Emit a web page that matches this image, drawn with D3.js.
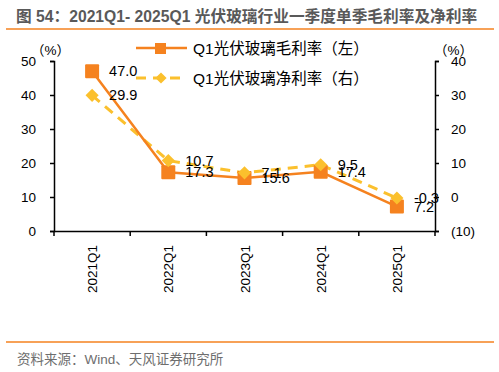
<!DOCTYPE html>
<html>
<head>
<meta charset="utf-8">
<script src="https://cdn.jsdelivr.net/npm/d3@7"></script>
<style>
  body { margin: 0; background: #fff; }
  svg text { font-family: "Liberation Sans", Arial, "Noto Sans CJK SC", sans-serif; }
  .cjk { font-family: "Liberation Sans", "Noto Sans CJK SC", sans-serif; }
</style>
</head>
<body>
<svg id="chart" width="499" height="372"></svg>
<script>
var categories = ["2021Q1", "2022Q1", "2023Q1", "2024Q1", "2025Q1"];
var grossMargin = [47.0, 17.3, 15.6, 17.4, 7.2];
var netMargin = [29.9, 10.7, 7.1, 9.5, -0.3];
var leftTicks = [0, 10, 20, 30, 40, 50];
var rightTicks = [-10, 0, 10, 20, 30, 40];

var orange = "#f5821f",
  yellow = "#fbc02d";

var svg = d3.select("#chart"),
  margin = { top: 61, left: 54, right: 64, bottom: 141 },
  width = 499 - margin.left - margin.right,
  height = 372 - margin.top - margin.bottom;

// title + rules
svg.append("text")
  .attr("class", "cjk")
  .attr("x", 16).attr("y", 22)
  .attr("font-size", 15.7).attr("font-weight", "bold")
  .attr("fill", "#595959")
  .text("图 54：2021Q1- 2025Q1 光伏玻璃行业一季度单季毛利率及净利率");

svg.append("line").attr("x1", 6).attr("x2", 494).attr("y1", 29).attr("y2", 29)
  .attr("stroke", orange).attr("stroke-width", 1.5);
svg.append("line").attr("x1", 6).attr("x2", 494).attr("y1", 342).attr("y2", 342)
  .attr("stroke", orange).attr("stroke-width", 1.5);
svg.append("text")
  .attr("class", "cjk")
  .attr("x", 17).attr("y", 364)
  .attr("font-size", 13.5).attr("fill", "#6e6e6e")
  .text("资料来源：Wind、天风证券研究所");

var g = svg.append("g").attr("transform", "translate(" + margin.left + "," + margin.top + ")");

var x = d3.scaleBand().domain(categories).range([0, width]);
var yL = d3.scaleLinear().domain([0, 50]).range([height, 0]);
var yR = d3.scaleLinear().domain([-10, 40]).range([height, 0]);

// axes
var axL = g.append("g").call(d3.axisLeft(yL).tickValues(leftTicks).tickSize(4).tickPadding(14));
var axR = g.append("g").attr("transform", "translate(" + width + ",0)")
  .call(d3.axisRight(yR).tickValues(rightTicks).tickSize(4).tickPadding(12)
    .tickFormat(function (d) { return d < 0 ? "(" + Math.abs(d) + ")" : d; }));
var axB = g.append("g").attr("transform", "translate(0," + height + ")")
  .call(d3.axisBottom(x).tickSize(0).tickFormat(""));

[axL, axR, axB].forEach(function (a) {
  a.select(".domain").attr("stroke", "#000").attr("stroke-width", 1.5);
  a.selectAll(".tick line").attr("stroke", "#000").attr("stroke-width", 1.5);
  a.selectAll("text").attr("font-size", 13.5).attr("fill", "#000")
    .attr("font-family", "Liberation Sans, Arial, sans-serif");
});

// bottom ticks at band boundaries
var bounds = categories.map(function (c) { return x(c); }).concat([width]);
g.selectAll(".btick").data(bounds).enter().append("line")
  .attr("x1", function (d) { return d; }).attr("x2", function (d) { return d; })
  .attr("y1", height).attr("y2", height + 5)
  .attr("stroke", "#000").attr("stroke-width", 1.5);

// rotated category labels
g.selectAll(".xlab").data(categories).enter().append("text")
  .attr("transform", function (d) {
    return "translate(" + (x(d) + x.bandwidth() / 2 + 5) + "," + (height + 14) + ") rotate(-90)";
  })
  .attr("text-anchor", "end")
  .attr("font-size", 13.5).attr("fill", "#000")
  .text(function (d) { return d; });

// unit labels
svg.append("text").attr("class", "cjk").attr("x", 31).attr("y", 55).attr("font-size", 13.5).text("（%）");
svg.append("text").attr("class", "cjk").attr("x", 434).attr("y", 55).attr("font-size", 13.5).text("（%）");

var cx = function (i) { return x(categories[i]) + x.bandwidth() / 2; };

// net margin (right axis)
var netLine = d3.line().x(function (d, i) { return cx(i); }).y(function (d) { return yR(d); });
g.append("path").datum(netMargin).attr("d", netLine)
  .attr("fill", "none").attr("stroke", yellow).attr("stroke-width", 3)
  .attr("stroke-dasharray", "10,7");

// gross margin (left axis)
var grossLine = d3.line().x(function (d, i) { return cx(i); }).y(function (d) { return yL(d); });
g.append("path").datum(grossMargin).attr("d", grossLine)
  .attr("fill", "none").attr("stroke", orange).attr("stroke-width", 2.5);

g.selectAll(".sq").data(grossMargin).enter().append("rect")
  .attr("x", function (d, i) { return cx(i) - 7; })
  .attr("y", function (d) { return yL(d) - 7; })
  .attr("width", 14).attr("height", 14).attr("rx", 1)
  .attr("fill", orange);

g.selectAll(".dm").data(netMargin).enter().append("path")
  .attr("d", d3.symbol().type(d3.symbolDiamond2).size(110))
  .attr("transform", function (d, i) { return "translate(" + cx(i) + "," + yR(d) + ")"; })
  .attr("fill", yellow);

// value labels
g.selectAll(".gl").data(grossMargin).enter().append("text")
  .attr("x", function (d, i) { return cx(i) + 17; })
  .attr("y", function (d) { return yL(d) + 5; })
  .attr("font-size", 14.5).attr("fill", "#000")
  .text(function (d) { return d.toFixed(1); });

g.selectAll(".nl").data(netMargin).enter().append("text")
  .attr("x", function (d, i) { return cx(i) + 17; })
  .attr("y", function (d) { return yR(d) + 5; })
  .attr("font-size", 14.5).attr("fill", "#000")
  .text(function (d) { return d.toFixed(1); });

// legend
var lg = svg.append("g");
lg.append("line").attr("x1", 136).attr("x2", 187).attr("y1", 48).attr("y2", 48)
  .attr("stroke", orange).attr("stroke-width", 2.5);
lg.append("rect").attr("x", 155).attr("y", 43).attr("width", 11).attr("height", 11).attr("fill", orange);
lg.append("text").attr("class", "cjk").attr("x", 193).attr("y", 54).attr("font-size", 15.5)
  .text("Q1光伏玻璃毛利率（左）");
lg.append("line").attr("x1", 136).attr("x2", 187).attr("y1", 78).attr("y2", 78)
  .attr("stroke", yellow).attr("stroke-width", 3).attr("stroke-dasharray", "10,7");
lg.append("path").attr("d", d3.symbol().type(d3.symbolDiamond2).size(80))
  .attr("transform", "translate(161,78)").attr("fill", yellow);
lg.append("text").attr("class", "cjk").attr("x", 193).attr("y", 84).attr("font-size", 15.5)
  .text("Q1光伏玻璃净利率（右）");
</script>
</body>
</html>
